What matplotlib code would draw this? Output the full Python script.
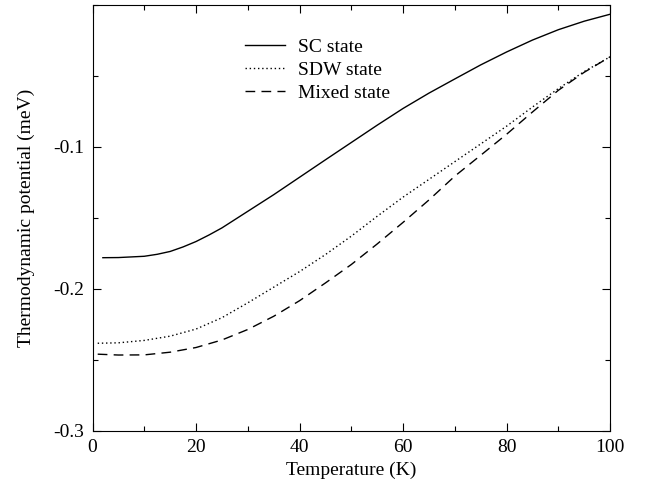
import matplotlib
matplotlib.use("Agg")
import matplotlib.pyplot as plt
from matplotlib.ticker import MultipleLocator

plt.rcParams['font.family'] = ['Liberation Serif', 'DejaVu Serif']
plt.rcParams['font.size'] = 14

# values (T in K, potential in meV)
t_sc = [2, 5, 10, 12.5, 15, 17.5, 20, 22.5, 25, 30, 35, 40, 45, 50, 55, 60, 65, 70, 75, 80, 85, 90, 95, 100]
sc = [-0.1782, -0.1781, -0.1772, -0.1758, -0.1738, -0.1706, -0.1668, -0.1622, -0.1572,
      -0.1455, -0.1338, -0.1215, -0.1092, -0.0970, -0.0848, -0.0730, -0.0622, -0.0522,
      -0.0423, -0.0332, -0.0248, -0.0175, -0.0115, -0.0066]

t_other = [1, 5, 10, 15, 20, 25, 30, 35, 40, 45, 50, 55, 60, 65, 70, 75, 80, 85, 90, 95, 100]
sdw = [-0.2385, -0.2382, -0.2365, -0.2335, -0.2285, -0.2205, -0.2100, -0.1990, -0.1880,
       -0.1760, -0.1630, -0.1490, -0.1355, -0.1230, -0.1105, -0.0980, -0.0855, -0.0720,
       -0.0590, -0.0470, -0.0366]
mixed = [-0.2462, -0.2468, -0.2467, -0.2448, -0.2415, -0.2362, -0.2288, -0.2195, -0.2085,
         -0.1960, -0.1830, -0.1685, -0.1533, -0.1375, -0.1207, -0.1060, -0.0912, -0.0755,
         -0.0602, -0.0475, -0.0366]

fig = plt.figure(figsize=(6.47, 4.87), dpi=100)
ax = fig.add_axes([0.143, 0.116, 0.800, 0.874])

ax.plot(t_sc, sc, color='black', lw=1.0, label='SC state')
ax.plot(t_other, sdw, color='black', lw=1.0, linestyle=(0, (1, 2)), label='SDW state')
ax.plot(t_other, mixed, color='black', lw=1.0, linestyle=(0, (7, 4.5)), label='Mixed state')

ax.set_xlim(0, 100)
ax.set_ylim(-0.3, 0)
ax.set_xticks([0, 20, 40, 60, 80, 100])
ax.set_yticks([-0.3, -0.2, -0.1])
ax.set_yticklabels(['-0.3', '-0.2', '-0.1'])
ax.xaxis.set_minor_locator(MultipleLocator(10))
ax.yaxis.set_minor_locator(MultipleLocator(0.05))
ax.tick_params(which='both', direction='in', top=True, right=True)
ax.tick_params(which='major', length=6, width=0.8, pad=6)
ax.tick_params(which='minor', length=3.5, width=0.8)
for s in ax.spines.values():
    s.set_linewidth(0.8)

ax.set_xlabel('Temperature (K)', labelpad=4)
ax.set_ylabel('Thermodynamic potential (meV)', labelpad=13)

ax.legend(loc='upper left', bbox_to_anchor=(0.295, 0.922), frameon=False,
          handlelength=2.06, handletextpad=0.67, labelspacing=0.28, borderpad=0,
          borderaxespad=0)

fig.savefig('out.png', dpi=100)
